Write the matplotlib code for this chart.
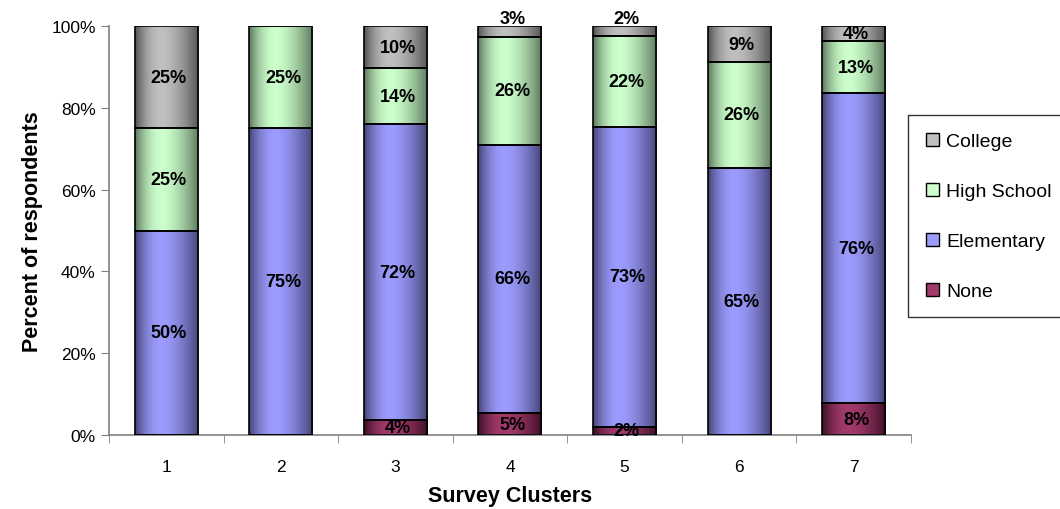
import matplotlib.pyplot as plt
import numpy as np
from matplotlib.patches import Patch
from matplotlib.ticker import FixedLocator, PercentFormatter

plt.rcParams['font.family'] = ['Liberation Sans', 'DejaVu Sans']

clusters = ['1', '2', '3', '4', '5', '6', '7']
series = ['None', 'Elementary', 'High School', 'College']
none_pct = [0, 0, 3.7, 5.4, 2.0, 0, 7.8]
elementary_pct = [50, 75, 72.3, 65.6, 73.3, 65.3, 75.8]
high_school_pct = [25, 25, 13.7, 26.3, 22.3, 25.9, 12.7]
college_pct = [25, 0, 10.3, 2.7, 2.4, 8.8, 3.7]

# (edge colour, highlight colour) for the shaded bars
shades = {
    'None': ('#3e1026', '#a23a6c'),
    'Elementary': ('#454577', '#9c9cff'),
    'High School': ('#5f7a5f', '#ccffcc'),
    'College': ('#555555', '#c0c0c0'),
}


def shade_strip(dark, light, n=64):
    t = np.linspace(0, 1, n)
    peak = 0.42
    s = np.where(t < peak, 1 - ((peak - t) / peak) ** 2, 1 - ((t - peak) / (1 - peak)) ** 1.6)
    d = np.array(plt.matplotlib.colors.to_rgb(dark))
    l = np.array(plt.matplotlib.colors.to_rgb(light))
    rgb = d[None, :] + (l - d)[None, :] * s[:, None]
    return rgb[None, :, :]


fig = plt.figure(figsize=(10.6, 5.1), dpi=100)
ax = fig.add_axes([0.1028, 0.145, 0.7566, 0.802])

x = np.arange(len(clusters))
width = 0.55
values = [none_pct, elementary_pct, high_school_pct, college_pct]
bottom = np.zeros(len(clusters))

for name, vals in zip(series, values):
    vals = np.array(vals, dtype=float)
    bars = ax.bar(x, vals, width, bottom=bottom, facecolor='none',
                  edgecolor='black', linewidth=1.2, zorder=3)
    img = shade_strip(*shades[name])
    for bar, v, b in zip(bars, vals, bottom):
        if v <= 0:
            continue
        x0 = bar.get_x()
        im = ax.imshow(img, extent=(x0, x0 + width, b, b + v), aspect='auto',
                       interpolation='bilinear', zorder=2)
        im.set_clip_path(bar)
        label = f'{v:.0f}%'
        if name == 'College' and v < 3:
            ax.text(bar.get_x() + width / 2 + 0.02, 99.8, label, ha='center',
                    va='bottom', fontsize=13, fontweight='bold', clip_on=False)
        else:
            ax.text(bar.get_x() + width / 2 + 0.02, b + v / 2, label, ha='center',
                    va='center', fontsize=13, fontweight='bold', zorder=4)
    bottom += vals

ax.set_xlim(-0.5, len(clusters) - 0.5)
ax.set_ylim(0, 100)
ax.set_xticks(x)
ax.set_xticklabels(clusters)
ax.xaxis.set_minor_locator(FixedLocator(np.arange(-0.5, len(clusters), 1.0)))
ax.tick_params(axis='x', which='major', length=0, pad=17, labelsize=12.5)
ax.tick_params(axis='x', which='minor', length=6, direction='out', color='#808080')
ax.set_yticks(np.arange(0, 101, 20))
ax.yaxis.set_major_formatter(PercentFormatter(decimals=0))
ax.tick_params(axis='y', length=6, color='#808080', labelsize=12.5)

for side in ['top', 'right']:
    ax.spines[side].set_visible(False)
for side in ['left', 'bottom']:
    ax.spines[side].set_color('#808080')
    ax.spines[side].set_linewidth(1.2)

ax.set_xlabel('Survey Clusters', fontsize=15.5, fontweight='bold', labelpad=8)
ax.set_ylabel('Percent of respondents', fontsize=15.5, fontweight='bold', labelpad=6)

handles = [Patch(facecolor=shades[s][1], edgecolor='black', linewidth=1.0, label=s)
           for s in reversed(series)]
leg = fig.legend(handles=handles, loc='center left', bbox_to_anchor=(0.857, 0.574),
                 fontsize=14, frameon=True, fancybox=False, labelspacing=1.68,
                 handlelength=0.65, handleheight=0.65, handletextpad=0.4,
                 borderpad=0.9, borderaxespad=0)
leg.get_frame().set_edgecolor('black')
leg.get_frame().set_linewidth(1.0)

fig.savefig('out.png', dpi=100)
